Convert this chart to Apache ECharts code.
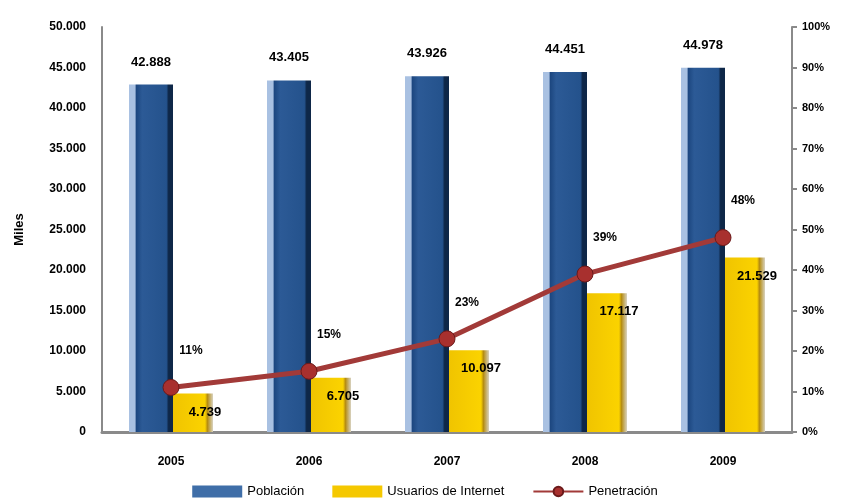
<!DOCTYPE html>
<html>
<head>
<meta charset="utf-8">
<script src="https://cdn.jsdelivr.net/npm/echarts@6/dist/echarts.min.js"></script>
<style>
  html, body { margin: 0; padding: 0; background: #fff; }
  #chart { width: 850px; height: 503px; }
</style>
</head>
<body>
<div id="chart"></div>
<script>
const years = ['2005', '2006', '2007', '2008', '2009'];
const poblacion = [42888, 43405, 43926, 44451, 44978];
const usuarios = [4739, 6705, 10097, 17117, 21529];
const penetracion = [11, 15, 23, 39, 48];

const fmtMiles = v => String(v).replace(/\B(?=(\d{3})+(?!\d))/g, '.');
const font = 'Liberation Sans';

const chart = echarts.init(document.getElementById('chart'));
chart.setOption({
  backgroundColor: '#fff',
  animation: false,
  textStyle: {fontFamily: font},
  grid: {left: 102, right: 58, top: 27, bottom: 71},
  legend: {
    bottom: 0,
    left: 'center',
    itemGap: 28,
    textStyle: {fontSize: 13, color: '#000', fontFamily: font},
    data: [
      {name: 'Población', icon: 'rect', itemStyle: {color: '#3f6ea8'}},
      {name: 'Usuarios de Internet', icon: 'rect', itemStyle: {color: '#f5c800'}},
      {name: 'Penetración'}
    ],
    itemWidth: 50,
    itemHeight: 12
  },
  xAxis: {
    type: 'category',
    data: years,
    axisLine: {lineStyle: {color: '#8a8a8a', width: 3}},
    axisTick: {show: false},
    axisLabel: {color: '#000', fontWeight: 'bold', fontSize: 12, margin: 24}
  },
  yAxis: [
    {
      type: 'value',
      min: 0, max: 50000, interval: 5000,
      name: 'Miles',
      nameLocation: 'middle',
      nameRotate: 90,
      nameGap: 76,
      nameTextStyle: {color: '#000', fontWeight: 'bold', fontSize: 13},
      axisLine: {show: true, lineStyle: {color: '#8a8a8a', width: 2}},
      axisTick: {show: false},
      splitLine: {show: false},
      axisLabel: {color: '#000', fontWeight: 'bold', fontSize: 12, margin: 16, formatter: fmtMiles}
    },
    {
      type: 'value',
      min: 0, max: 100, interval: 10,
      position: 'right',
      axisLine: {show: true, lineStyle: {color: '#8a8a8a', width: 2}},
      axisTick: {show: true, length: 5, lineStyle: {color: '#8a8a8a', width: 2}},
      splitLine: {show: false},
      axisLabel: {color: '#000', fontWeight: 'bold', fontSize: 11, margin: 10, formatter: '{value}%'}
    }
  ],
  series: [
    {
      name: 'Población',
      type: 'bar',
      data: poblacion,
      barWidth: 44,
      barGap: '0%',
      itemStyle: {
        color: new echarts.graphic.LinearGradient(0, 0, 1, 0, [
          {offset: 0, color: '#a9c1e2'},
          {offset: 0.14, color: '#a9c1e2'},
          {offset: 0.16, color: '#1c467f'},
          {offset: 0.3, color: '#2c5a96'},
          {offset: 0.85, color: '#24528c'},
          {offset: 0.9, color: '#0e2748'},
          {offset: 1, color: '#0e2748'}
        ])
      },
      label: {
        show: true,
        position: 'top',
        distance: 16,
        color: '#000',
        fontWeight: 'bold',
        fontSize: 13,
        formatter: p => fmtMiles(p.value)
      }
    },
    {
      name: 'Usuarios de Internet',
      type: 'bar',
      data: usuarios,
      barWidth: 40,
      itemStyle: {
        color: new echarts.graphic.LinearGradient(0, 0, 1, 0, [
          {offset: 0, color: '#f0c400'},
          {offset: 0.8, color: '#fbd300'},
          {offset: 0.86, color: '#b58c10'},
          {offset: 1, color: '#d8d2c0'}
        ])
      },
      label: {
        show: true,
        position: 'insideTop',
        distance: 12,
        offset: [12, 0],
        color: '#000',
        fontWeight: 'bold',
        fontSize: 13,
        formatter: p => fmtMiles(p.value)
      }
    },
    {
      name: 'Penetración',
      type: 'line',
      yAxisIndex: 1,
      data: penetracion,
      symbol: 'circle',
      symbolSize: 16,
      z: 5,
      lineStyle: {color: '#a23a38', width: 5},
      itemStyle: {color: '#a8302e', borderColor: '#6b1a1a', borderWidth: 1},
      label: {
        show: true,
        position: 'top',
        distance: 14,
        offset: [20, -8],
        color: '#000',
        fontWeight: 'bold',
        fontSize: 12,
        formatter: '{c}%'
      }
    }
  ]
});
</script>
</body>
</html>
